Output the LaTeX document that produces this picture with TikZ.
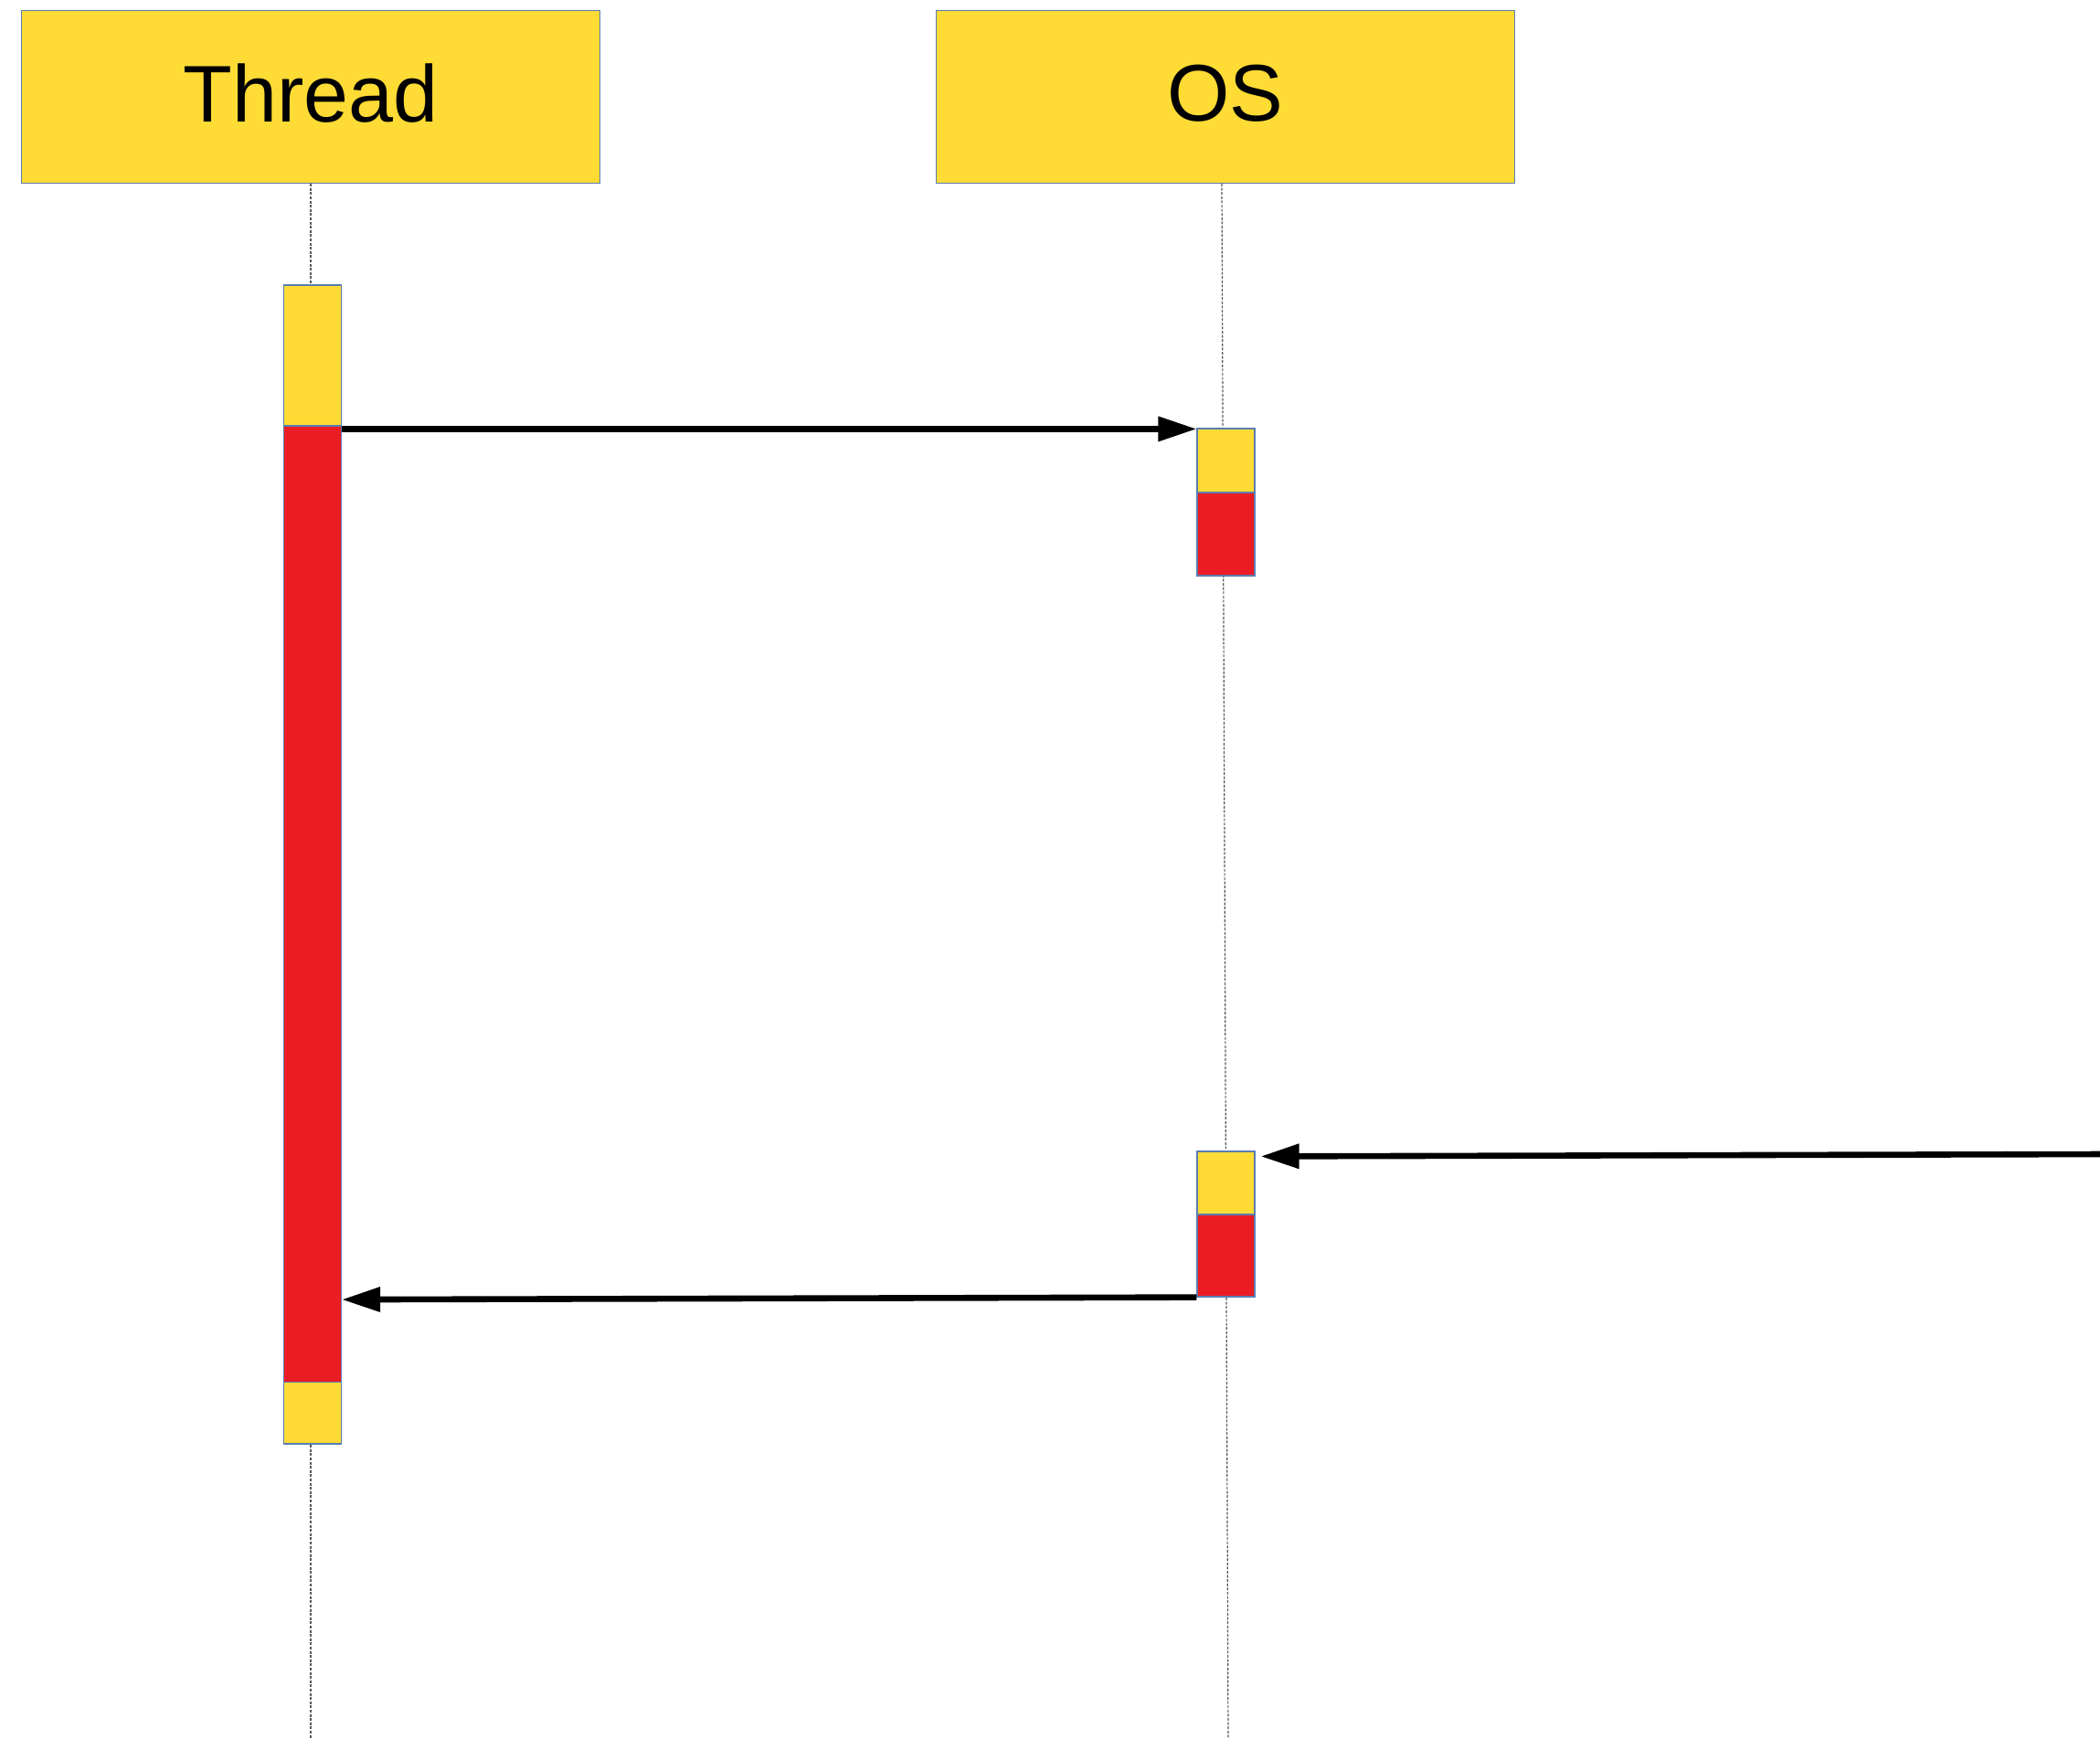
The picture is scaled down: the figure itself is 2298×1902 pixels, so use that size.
\documentclass[tikz,border=0pt]{standalone}
\usepackage{fontspec}
\setmainfont{Liberation Sans}
\usetikzlibrary{arrows.meta,calc}
\definecolor{hy}{HTML}{FEDB35}
\definecolor{hr}{HTML}{EC1C24}
\definecolor{edge}{HTML}{5A7DB0}
\begin{document}
\begin{tikzpicture}[x=0.5pt,y=-0.5pt,
  head/.style={draw=edge,line width=0.6pt,fill=hy,minimum width=316.5pt,minimum height=94.5pt,inner sep=0pt,font=\fontsize{44}{50}\selectfont},
  act/.style={draw=edge,line width=0.6pt,minimum width=31.5pt,inner sep=0pt},
  ylw/.style={act,fill=hy},
  rd/.style={act,fill=hr},
  life/.style={draw=gray!70!black,line width=0.6pt,dash pattern=on 1.5pt off 0.8pt},
  msg/.style={draw=black,line width=3.3pt,-{Triangle[length=21pt,width=13pt]}}]
\useasboundingbox (0,0) rectangle (2298,1902);
% heads
\node[head] (thr) at (340,106) {\raisebox{4.4pt}{Thread}};
\node[head] (os) at (1341,106) {\raisebox{4.4pt}{OS}};
% lifeline ends
\coordinate (thrBot) at (340,1902);
\coordinate (osTop) at (1337,201);
\coordinate (osBot) at (1344,1902);
\draw[life] (thr.south) -- (thrBot);
\draw[life] (osTop) -- (osBot);
% thread activation
\node[ylw,minimum height=77pt] (tY) at (342,389) {};
\node[rd,minimum height=523.25pt] (tR) at (342,989.25) {};
\node[ylw,minimum height=33.75pt] (tY2) at (342,1546.25) {};
% OS activations
\node[ylw,minimum height=35pt] (o1y) at (1341.5,504) {};
\node[rd,minimum height=45.5pt] (o1r) at (1341.5,584.5) {};
\node[ylw,minimum height=34.5pt] (o2y) at (1341.5,1294.5) {};
\node[rd,minimum height=45pt] (o2r) at (1341.5,1374) {};
% messages
\draw[msg] ($(tR.north east)+(0,4)$) -- ($(o1y.north west)+(0,1)$);
\coordinate (src) at (2300,1263);
\draw[msg] (src) -- ($(o2y.north east)+(6,6)$);
\draw[msg] (o2r.south west) -- ($(tR.south east)+(0,-91)$);
\end{tikzpicture}
\end{document}
